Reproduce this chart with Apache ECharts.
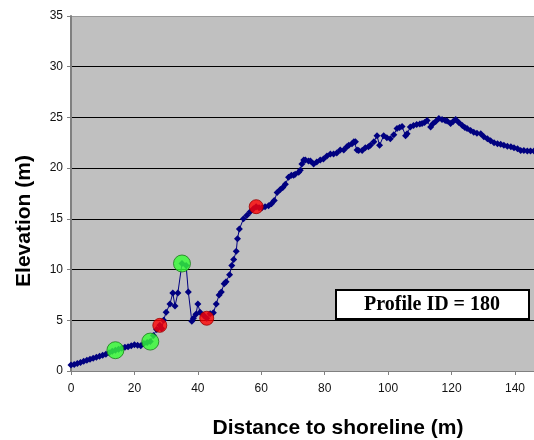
<!DOCTYPE html>
<html>
<head>
<meta charset="utf-8">
<script src="https://cdn.jsdelivr.net/npm/echarts@6/dist/echarts.min.js"></script>
<style>
html,body{margin:0;padding:0;background:#fff;}
#chart{width:534px;height:440px;}
</style>
</head>
<body>
<div id="chart"></div>
<script>
// Profile distance (m)
var distance = [0,1,2,3,4,5,6,7,8,9,10,11,12,13,14,15,16,17,18,19,20,21,22,23,24,25,26,27,28,28.6,29.2,30,31.2,32.1,32.8,33.7,35,36.3,37,38.1,38.6,39.4,40,40.7,41.8,42.8,43.9,44.9,45.8,46.7,47.4,48.3,48.9,50,50.7,51.3,52.1,52.5,53.1,54.4,55.5,56.5,57.5,58.4,59.3,60.2,61.2,62.3,63.2,64.1,65,66,66.8,67.6,68.6,69.5,70.2,70.7,71.8,72.3,72.8,73.4,73.9,74.9,75.5,76.5,77.5,78.6,79.6,80.7,81.8,82.8,83.8,84.9,86,87,87.6,88.6,89.2,89.7,90.2,90.7,91.8,92.8,93.8,94.4,95.5,96.5,97.3,98.6,99.6,100.7,101.8,102.8,103.6,104.4,105.5,106,107,108,109,110,110.7,111.5,112.3,113.4,114.2,115,116,117,118,118.6,119.7,120.5,121.3,122.3,123.4,124.2,124.9,126,127,128,129.2,130.2,131.3,132.3,133.4,134.5,135.5,136.5,137.6,138.7,139.7,140.8,141.8,142.8,143.9,144.9,146];
// Elevation (m)
var elevation = [0.6,0.65,0.75,0.85,0.95,1.05,1.15,1.25,1.35,1.45,1.55,1.65,1.8,1.95,2.05,2.15,2.25,2.35,2.4,2.5,2.6,2.55,2.5,2.7,2.8,2.9,3.5,4.1,4.5,4.2,5.0,5.8,6.6,7.7,6.4,7.7,10.6,10.4,7.8,4.9,5.2,5.6,6.6,5.8,5.5,5.2,5.65,5.75,6.6,7.5,7.8,8.6,8.8,9.5,10.4,11.0,11.8,13.05,14.0,15.0,15.35,15.7,16.0,16.2,16.1,16.1,16.2,16.3,16.5,16.8,17.6,17.9,18.1,18.4,19.1,19.3,19.3,19.4,19.6,19.8,20.4,20.8,20.8,20.7,20.7,20.4,20.6,20.8,20.9,21.2,21.4,21.4,21.5,21.8,21.8,22.1,22.25,22.4,22.6,22.6,21.8,21.75,21.75,22.0,22.1,22.25,22.6,23.2,22.25,23.2,23.0,22.9,23.3,23.9,24.0,24.1,23.2,23.4,24.05,24.2,24.3,24.35,24.4,24.5,24.7,24.05,24.4,24.6,24.9,24.8,24.7,24.65,24.4,24.6,24.8,24.5,24.2,24.0,23.9,23.7,23.55,23.45,23.4,23.1,22.9,22.7,22.5,22.4,22.35,22.25,22.15,22.1,22.0,21.9,21.75,21.75,21.7,21.7,21.7];
// Highlighted points
var greenX = [14, 25, 35];
var greenY = [2.05, 2.9, 10.6];
var redX = [28, 42.8, 58.4];
var redY = [4.5, 5.2, 16.2];
// Tick labels
var xTicks = [0,20,40,60,80,100,120,140];
var yTicks = [0,5,10,15,20,25,30,35];

function pairs(xs, ys){ return xs.map(function(x,i){ return [x, ys[i]]; }); }

var chart = echarts.init(document.getElementById('chart'), null, {renderer:'canvas'});
chart.setOption({
  animation:false,
  backgroundColor:'#ffffff',
  grid:{left:71, top:16, right:0, bottom:69, show:true, backgroundColor:'#C0C0C0', borderWidth:0},
  xAxis:{
    type:'value', min:0, max:146, interval:20,
    axisLine:{show:true, onZero:false, lineStyle:{color:'#808080', width:1}},
    axisTick:{show:true, length:4, customValues:xTicks, lineStyle:{color:'#808080'}},
    axisLabel:{customValues:xTicks, margin:12, fontSize:12, color:'#111', fontFamily:'Liberation Sans, Arial'},
    splitLine:{show:false}
  },
  yAxis:{
    type:'value', min:0, max:35, interval:5,
    axisLine:{show:true, lineStyle:{color:'#808080', width:2}},
    axisTick:{show:true, length:4, customValues:yTicks, lineStyle:{color:'#808080'}},
    axisLabel:{customValues:yTicks, margin:8, fontSize:12, color:'#111', fontFamily:'Liberation Sans, Arial'},
    splitLine:{show:true, lineStyle:{color:['#000','#000','#000','#000','#000','#000','#000','#999'], width:1}}
  },
  series:[
    {type:'line', z:2, data:pairs(distance, elevation), symbol:'diamond', symbolSize:7, showSymbol:true,
     lineStyle:{color:'#000080', width:1}, itemStyle:{color:'#000080'}},
    {type:'scatter', z:3, data:pairs(greenX, greenY), symbol:'circle', symbolSize:17,
     itemStyle:{color:'#33ff33', borderColor:'#1a7a1a', borderWidth:1}},
    {type:'scatter', z:3, data:pairs(redX, redY), symbol:'circle', symbolSize:14,
     itemStyle:{color:'#ff0000', borderColor:'#990000', borderWidth:1}}
  ],
  graphic:[
    {type:'rect', shape:{x:336, y:290, width:193, height:29}, style:{fill:'#fff', stroke:'#000', lineWidth:2}, z:10},
    {type:'text', x:432, y:305, style:{text:'Profile ID = 180', fontFamily:'Liberation Serif, Times New Roman', fontWeight:'bold', fontSize:20, fill:'#000', align:'center', verticalAlign:'middle'}, z:11},
    {type:'text', x:338, y:428, style:{text:'Distance to shoreline (m)', fontFamily:'Liberation Sans, Arial', fontWeight:'bold', fontSize:21, fill:'#000', align:'center', verticalAlign:'middle'}},
    {type:'text', x:24, y:221, rotation:Math.PI/2, style:{text:'Elevation (m)', fontFamily:'Liberation Sans, Arial', fontWeight:'bold', fontSize:21, fill:'#000', align:'center', verticalAlign:'middle'}}
  ]
});
</script>
</body>
</html>
